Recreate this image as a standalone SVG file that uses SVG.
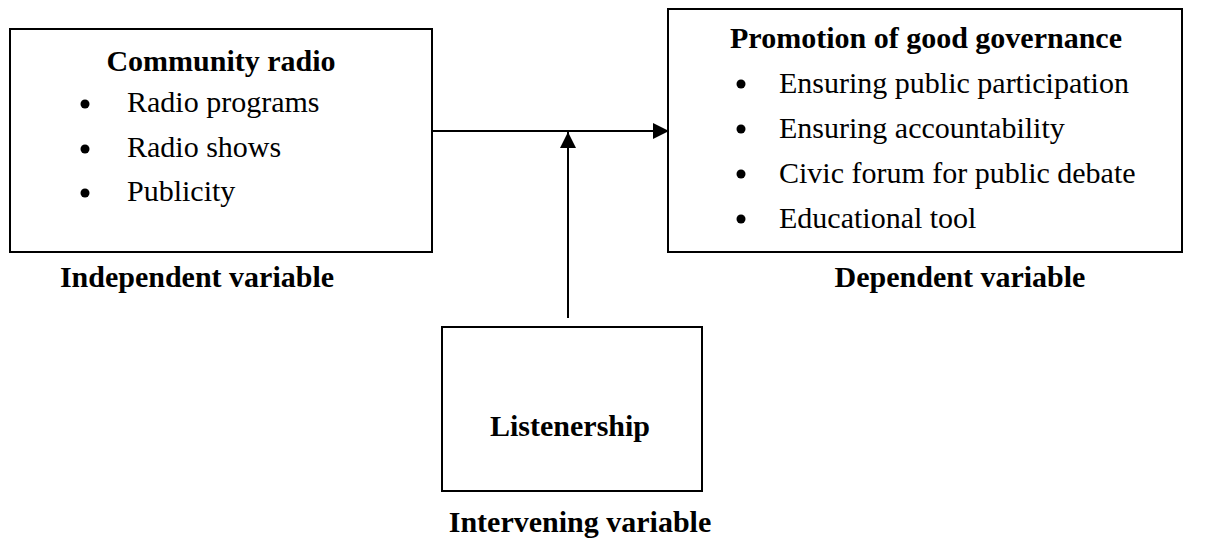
<svg xmlns="http://www.w3.org/2000/svg" width="1214" height="540" viewBox="0 0 1214 540">
<style>
.box{fill:#fff;stroke:#000;stroke-width:2}
.t{font-family:"Liberation Serif","Times New Roman",serif;font-size:30px;fill:#000}
.b{font-weight:bold}
.m{text-anchor:middle}
.line{stroke:#000;stroke-width:2;fill:none}
</style>
<defs>
<marker id="ah" viewBox="0 0 16 16" refX="16" refY="8" markerWidth="16" markerHeight="16" markerUnits="userSpaceOnUse" orient="auto">
<path d="M0,0 L16,8 L0,16 Z" fill="#000"/>
</marker>
</defs>
<rect width="1214" height="540" fill="#fff"/>
<g id="connectors">
<line class="line" x1="432" y1="131" x2="669" y2="131" marker-end="url(#ah)"/>
<line class="line" x1="568" y1="318" x2="568" y2="132" marker-end="url(#ah)"/>
</g>
<g id="community-radio">
<rect class="box" x="10" y="29" width="422" height="223"/>
<text class="t b m" x="221" y="71">Community radio</text>
<circle cx="85" cy="104" r="4.5"/>
<circle cx="85" cy="149" r="4.5"/>
<circle cx="85" cy="193" r="4.5"/>
<text class="t" x="127" y="112">Radio programs</text>
<text class="t" x="127" y="157">Radio shows</text>
<text class="t" x="127" y="201">Publicity</text>
</g>
<g id="independent-label">
<text class="t b m" x="197" y="287">Independent variable</text>
</g>
<g id="good-governance">
<rect class="box" x="668" y="9" width="514" height="243"/>
<text class="t b m" x="926" y="48">Promotion of good governance</text>
<circle cx="741" cy="84" r="4.5"/>
<circle cx="741" cy="129" r="4.5"/>
<circle cx="741" cy="174" r="4.5"/>
<circle cx="741" cy="219" r="4.5"/>
<text class="t" x="779" y="93">Ensuring public participation</text>
<text class="t" x="779" y="138">Ensuring accountability</text>
<text class="t" x="779" y="183">Civic forum for public debate</text>
<text class="t" x="779" y="228">Educational tool</text>
</g>
<g id="dependent-label">
<text class="t b m" x="960" y="287">Dependent variable</text>
</g>
<g id="listenership">
<rect class="box" x="442" y="327" width="260" height="164"/>
<text class="t b m" x="570" y="436">Listenership</text>
</g>
<g id="intervening-label">
<text class="t b m" x="580" y="532">Intervening variable</text>
</g>
</svg>
